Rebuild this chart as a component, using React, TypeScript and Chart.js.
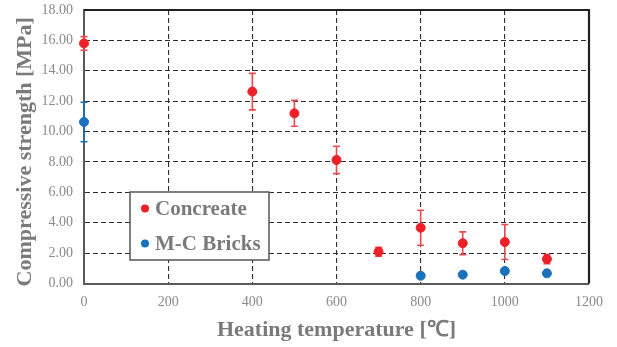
import React, { useEffect, useRef } from "react";
import { Chart, registerables } from "chart.js";

Chart.register(...registerables);

const temperatures = [0, 400, 500, 600, 700, 800, 900, 1000, 1100];
const concreteValues = [15.8, 12.63, 11.2, 8.13, 2.09, 3.67, 2.65, 2.73, 1.61];
const concreteErrors = [0.45, 1.2, 0.85, 0.9, 0.3, 1.15, 0.75, 1.15, 0.3];

const brickTemperatures = [0, 800, 900, 1000, 1100];
const brickValues = [10.63, 0.51, 0.58, 0.82, 0.67];
const brickErrors = [1.3, 0, 0, 0, 0];

const seriesLabels = ["Concreate", "M-C Bricks"];
const xTitle = "Heating temperature [℃]";
const yTitle = "Compressive strength [MPa]";

const RED = "#ec2027";
const RED_BAR = "#ee4a50";
const BLUE = "#1a70bb";
const FONT = "'Liberation Serif', 'Times New Roman', serif";

const errorBarPlugin = {
  id: "errorBars",
  beforeDatasetsDraw(chart: any) {
    const ctx = chart.ctx;
    const yScale = chart.scales.y;
    chart.data.datasets.forEach((ds: any, di: number) => {
      const meta = chart.getDatasetMeta(di);
      ctx.save();
      ctx.strokeStyle = ds.errorColor;
      ctx.lineWidth = 1.6;
      meta.data.forEach((pt: any, i: number) => {
        const e = ds.errors[i];
        if (!e) return;
        const v = ds.data[i].y;
        const yTop = yScale.getPixelForValue(v + e);
        const yBot = yScale.getPixelForValue(v - e);
        const x = pt.x;
        ctx.beginPath();
        ctx.moveTo(x, yTop);
        ctx.lineTo(x, yBot);
        ctx.moveTo(x - 3.5, yTop);
        ctx.lineTo(x + 3.5, yTop);
        ctx.moveTo(x - 3.5, yBot);
        ctx.lineTo(x + 3.5, yBot);
        ctx.stroke();
      });
      ctx.restore();
    });
  },
};

const framePlugin = {
  id: "frame",
  beforeDatasetsDraw(chart: any) {
    const { ctx, chartArea } = chart;
    ctx.save();
    ctx.strokeStyle = "#222222";
    ctx.lineWidth = 2.2;
    ctx.beginPath();
    ctx.moveTo(chartArea.left, chartArea.top);
    ctx.lineTo(chartArea.right, chartArea.top);
    ctx.lineTo(chartArea.right, chartArea.bottom);
    ctx.stroke();
    ctx.restore();
  },
  afterDraw(chart: any) {
    const { ctx, chartArea } = chart;
    // y-axis title
    ctx.save();
    ctx.translate(25, (chartArea.top + chartArea.bottom) / 2 + 5);
    ctx.rotate(-Math.PI / 2);
    ctx.font = "bold 22px " + FONT;
    ctx.fillStyle = "#7a7a7a";
    ctx.textAlign = "center";
    ctx.textBaseline = "middle";
    ctx.fillText(yTitle, 0, 0);
    ctx.restore();

    // legend
    const x0 = chartArea.left + 46;
    const y0 = chartArea.top + 182;
    const w = 139;
    const h = 68;
    ctx.save();
    ctx.fillStyle = "#ffffff";
    ctx.fillRect(x0, y0, w, h);
    ctx.strokeStyle = "#555555";
    ctx.lineWidth = 1.5;
    ctx.strokeRect(x0, y0, w, h);
    ctx.font = "bold 21px " + FONT;
    ctx.textBaseline = "middle";
    chart.data.datasets.forEach((ds: any, i: number) => {
      const cy = y0 + 16.5 + i * 35;
      ctx.fillStyle = ds.backgroundColor;
      ctx.beginPath();
      ctx.arc(x0 + 15, cy, 4, 0, Math.PI * 2);
      ctx.fill();
      ctx.fillStyle = "#7a7a7a";
      ctx.fillText(ds.label, x0 + 25, cy + 1);
    });
    ctx.restore();
  },
};

export default function App() {
  const ref = useRef<HTMLCanvasElement>(null);
  useEffect(() => {
    const gridColor = (ctx: any) => {
      const n = ctx.scale.ticks.length;
      if (ctx.index === 0 || ctx.index === n - 1) return "rgba(0,0,0,0)";
      return "#2e2e2e";
    };
    const chart = new Chart(ref.current as HTMLCanvasElement, {
      type: "scatter",
      data: {
        datasets: [
          {
            label: seriesLabels[0],
            data: temperatures.map((t, i) => ({ x: t, y: concreteValues[i] })),
            backgroundColor: RED,
            borderColor: RED,
            pointRadius: 4.5,
            clip: false,
            errors: concreteErrors,
            errorColor: RED_BAR,
          } as any,
          {
            label: seriesLabels[1],
            data: brickTemperatures.map((t, i) => ({ x: t, y: brickValues[i] })),
            backgroundColor: BLUE,
            borderColor: BLUE,
            pointRadius: 4.5,
            clip: false,
            errors: brickErrors,
            errorColor: BLUE,
          } as any,
        ],
      },
      options: {
        animation: false,
        responsive: false,
        layout: { padding: { left: 10, right: 28, top: 10, bottom: 0 } },
        plugins: { legend: { display: false }, tooltip: { enabled: false } },
        scales: {
          x: {
            type: "linear",
            min: 0,
            max: 1200,
            ticks: {
              stepSize: 200,
              color: "#8a8a8a",
              padding: 10,
              font: { family: FONT, size: 14 },
              callback: (v: any) => String(v),
            },
            grid: { color: gridColor, lineWidth: 1.1, drawTicks: false },
            border: { color: "#5a5a5a", width: 2, dash: [5, 3] },
            title: {
              display: true,
              text: xTitle,
              color: "#7a7a7a",
              font: { family: FONT, size: 22, weight: "bold" },
              padding: { top: 4, bottom: 3 },
            },
            afterFit: (s: any) => {
              s.height = 63.5;
              s.paddingLeft = 0;
              s.paddingRight = 0;
            },
          },
          y: {
            type: "linear",
            min: 0,
            max: 18,
            ticks: {
              stepSize: 2,
              color: "#8a8a8a",
              padding: 11,
              font: { family: FONT, size: 14 },
              callback: (v: any) => Number(v).toFixed(2),
            },
            grid: { color: gridColor, lineWidth: 1.1, drawTicks: false },
            border: { color: "#5a5a5a", width: 2, dash: [5, 3] },
            title: { display: false },
            afterFit: (s: any) => {
              s.width = 74;
              s.paddingTop = 0;
              s.paddingBottom = 0;
            },
          },
        },
      } as any,
      plugins: [errorBarPlugin, framePlugin],
    });
    return () => chart.destroy();
  }, []);
  return (
    <div style={{ position: "absolute", left: 0, top: 0, width: 617, height: 347, background: "#fff" }}>
      <canvas ref={ref} width={617} height={347} />
    </div>
  );
}
